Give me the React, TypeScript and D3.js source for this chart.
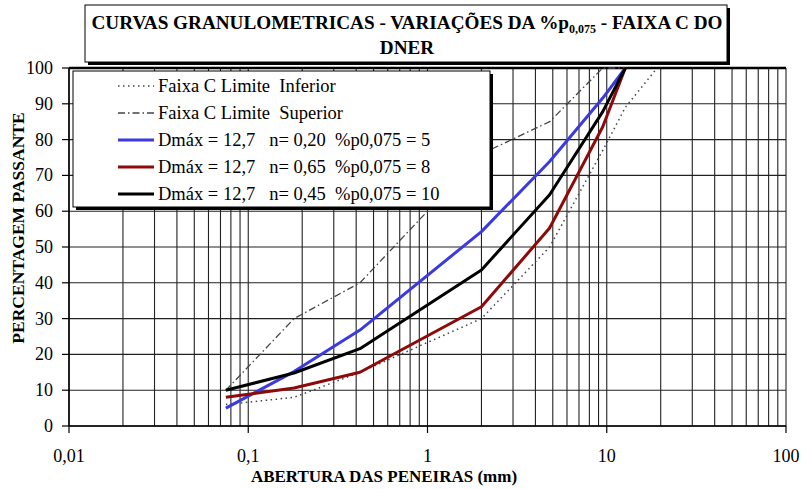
import React from "react";
import * as d3 from "d3";

// Sieve openings (mm)
const sieves = [0.075, 0.18, 0.42, 2.0, 4.8, 9.5, 12.7];
const sievesLower = [0.075, 0.18, 0.42, 2.0, 4.8, 9.5, 12.7, 19.1];

// Band C limits (% passing)
const limiteInferior = [6, 8, 15, 30, 50, 77, 89, 100];
const limiteSuperior = [10, 30, 40, 76, 85, 100, 100];

// Gradation curves (% passing)
const curvaN020 = [5, 15.2, 26.8, 54.3, 73.9, 91.6, 100];
const curvaN065 = [8, 10.6, 15.0, 33.3, 55.3, 83.6, 100];
const curvaN045 = [10, 14.8, 21.6, 43.6, 64.6, 87.8, 100];

const xTickValues = [0.01, 0.1, 1, 10, 100];
const xTickLabels = ["0,01", "0,1", "1", "10", "100"];
const yTickValues = [0, 10, 20, 30, 40, 50, 60, 70, 80, 90, 100];

const legendLabels = [
  "Faixa C Limite  Inferior",
  "Faixa C Limite  Superior",
  "Dmáx = 12,7   n= 0,20  %p0,075 = 5",
  "Dmáx = 12,7   n= 0,65  %p0,075 = 8",
  "Dmáx = 12,7   n= 0,45  %p0,075 = 10",
];

const W = 802;
const H = 489;
const SERIF = "'Liberation Serif', 'Times New Roman', serif";

export default function App() {
  const x = d3.scaleLog().domain([0.01, 100]).range([69, 786]);
  const y = d3.scaleLinear().domain([0, 100]).range([426, 68]);

  const gridX: number[] = [];
  for (let e = -2; e <= 1; e++) {
    for (let k = 1; k <= 9; k++) gridX.push(k * Math.pow(10, e));
  }
  gridX.push(100);

  const line = d3
    .line<[number, number]>()
    .x((d) => x(d[0]))
    .y((d) => y(d[1]));

  const pairs = (xs: number[], ys: number[]) =>
    xs.map((v, i) => [v, ys[i]] as [number, number]);

  const series = [
    { data: pairs(sievesLower, limiteInferior), stroke: "#444", width: 1.5, dash: "1.5,3.5" },
    { data: pairs(sieves, limiteSuperior), stroke: "#444", width: 1.3, dash: "7,3,1.5,3" },
    { data: pairs(sieves, curvaN020), stroke: "#3a3ae0", width: 3, dash: undefined },
    { data: pairs(sieves, curvaN065), stroke: "#8e0a0a", width: 3, dash: undefined },
    { data: pairs(sieves, curvaN045), stroke: "#000", width: 3, dash: undefined },
  ];

  const legend = { x: 73, y: 71, w: 417, h: 136 };
  const rowY = [86, 113, 140, 167, 194];

  return (
    <svg
      width={W}
      height={H}
      style={{ position: "absolute", left: 0, top: 0, background: "#fff" }}
      fontFamily={SERIF}
    >
      {/* grid */}
      <g stroke="#222" strokeWidth={1.1}>
        {gridX.map((v, i) => (
          <line key={"gx" + i} x1={x(v)} x2={x(v)} y1={y(0)} y2={y(100)} />
        ))}
        {yTickValues.map((v) => (
          <line key={"gy" + v} x1={x(0.01)} x2={x(100)} y1={y(v)} y2={y(v)} />
        ))}
      </g>
      <line x1={x(0.01)} x2={x(100)} y1={y(100)} y2={y(100)} stroke="#000" strokeWidth={2.5} />
      {/* axes */}
      <line x1={x(0.01)} x2={x(0.01)} y1={y(0)} y2={y(100)} stroke="#000" strokeWidth={1.5} />
      <line x1={x(0.01)} x2={x(100)} y1={y(0)} y2={y(0)} stroke="#000" strokeWidth={1.5} />
      {yTickValues.map((v) => (
        <g key={"yt" + v}>
          <line x1={62} x2={x(0.01)} y1={y(v)} y2={y(v)} stroke="#000" strokeWidth={1.2} />
          <text x={53} y={y(v) + 6} fontSize={18} textAnchor="end">
            {v}
          </text>
        </g>
      ))}
      {xTickValues.map((v, i) => (
        <g key={"xt" + v}>
          <line x1={x(v)} x2={x(v)} y1={y(0)} y2={y(0) + 7} stroke="#000" strokeWidth={1.2} />
          <text x={x(v)} y={462} fontSize={18} textAnchor="middle">
            {xTickLabels[i]}
          </text>
        </g>
      ))}

      {/* curves */}
      {series.map((s, i) => (
        <path
          key={"s" + i}
          d={line(s.data) || ""}
          fill="none"
          stroke={s.stroke}
          strokeWidth={s.width}
          strokeDasharray={s.dash}
          strokeLinejoin="round"
        />
      ))}

      {/* legend */}
      <rect x={legend.x + 3} y={legend.y + 3} width={legend.w} height={legend.h} fill="#000" />
      <rect x={legend.x} y={legend.y} width={legend.w} height={legend.h} fill="#fff" stroke="#000" strokeWidth={1} />
      {series.map((s, i) => (
        <g key={"l" + i}>
          <line
            x1={118}
            x2={154}
            y1={rowY[i]}
            y2={rowY[i]}
            stroke={s.stroke}
            strokeWidth={s.width}
            strokeDasharray={s.dash}
          />
          <text x={158} y={rowY[i] + 6} fontSize={18.5} style={{ whiteSpace: "pre" }}>
            {legendLabels[i]}
          </text>
        </g>
      ))}

      {/* title */}
      <rect x={88} y={8} width={642} height={57} fill="#000" />
      <rect x={85} y={5} width={642} height={57} fill="#fff" stroke="#000" strokeWidth={1} />
      <text x={407} y={29} fontSize={19.2} fontWeight="bold" textAnchor="middle">
        CURVAS GRANULOMETRICAS - VARIAÇÕES DA %p
        <tspan fontSize={12} dy={4}>0,075</tspan>
        <tspan dy={-4}> - FAIXA C DO</tspan>
      </text>
      <text x={407} y={54} fontSize={19.2} fontWeight="bold" textAnchor="middle">
        DNER
      </text>

      {/* axis titles */}
      <text
        transform={`translate(24, 228) rotate(-90)`}
        fontSize={17.5}
        fontWeight="bold"
        textAnchor="middle"
      >
        PERCENTAGEM PASSANTE
      </text>
      <text x={384} y={482} fontSize={17} fontWeight="bold" textAnchor="middle">
        ABERTURA DAS PENEIRAS (mm)
      </text>
    </svg>
  );
}
